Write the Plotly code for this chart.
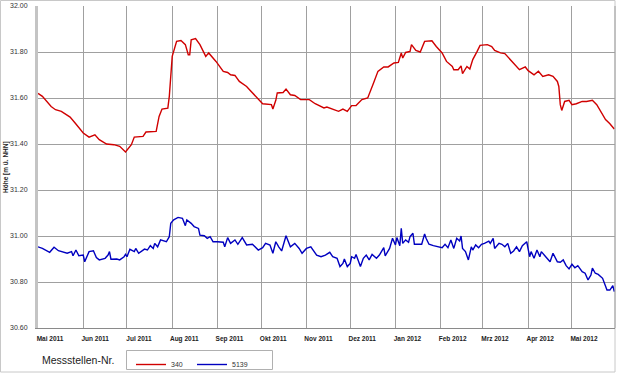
import plotly.graph_objects as go

# ---- data -------------------------------------------------------------
dates_340 = [
    "2011-05-01", "2011-05-04", "2011-05-10", "2011-05-13", "2011-05-17", "2011-05-23", "2011-05-27",
    "2011-06-01", "2011-06-05", "2011-06-09", "2011-06-12", "2011-06-17", "2011-06-22", "2011-06-26",
    "2011-06-30", "2011-07-04", "2011-07-06", "2011-07-12", "2011-07-14", "2011-07-21", "2011-07-23",
    "2011-07-25", "2011-07-29", "2011-07-30", "2011-08-01", "2011-08-04", "2011-08-07", "2011-08-10",
    "2011-08-12", "2011-08-13", "2011-08-14", "2011-08-17", "2011-08-20", "2011-08-24", "2011-08-26",
    "2011-08-31", "2011-09-05", "2011-09-08", "2011-09-10", "2011-09-13", "2011-09-16", "2011-09-21",
    "2011-09-23", "2011-09-28", "2011-10-02", "2011-10-08", "2011-10-09", "2011-10-11", "2011-10-12",
    "2011-10-16", "2011-10-18", "2011-10-21", "2011-10-24", "2011-10-28", "2011-11-03", "2011-11-07",
    "2011-11-13", "2011-11-15", "2011-11-18", "2011-11-23", "2011-11-26", "2011-11-29", "2011-12-02",
    "2011-12-05", "2011-12-09", "2011-12-13", "2011-12-17", "2011-12-20", "2011-12-24", "2011-12-27",
    "2011-12-31", "2012-01-03", "2012-01-05", "2012-01-06", "2012-01-08", "2012-01-11", "2012-01-12",
    "2012-01-15", "2012-01-18", "2012-01-21", "2012-01-26", "2012-01-29", "2012-02-02", "2012-02-05",
    "2012-02-09", "2012-02-10", "2012-02-13", "2012-02-15", "2012-02-16", "2012-02-19", "2012-02-21",
    "2012-02-23", "2012-02-26", "2012-02-28", "2012-03-04", "2012-03-07", "2012-03-09", "2012-03-13",
    "2012-03-16", "2012-03-20", "2012-03-23", "2012-03-26", "2012-03-30", "2012-04-01", "2012-04-05",
    "2012-04-08", "2012-04-11", "2012-04-15", "2012-04-18", "2012-04-21", "2012-04-22", "2012-04-23",
    "2012-04-24", "2012-04-26", "2012-04-29", "2012-05-01", "2012-05-04", "2012-05-08", "2012-05-11",
    "2012-05-15", "2012-05-18", "2012-05-20", "2012-05-24", "2012-05-27", "2012-05-30",
]
values_340 = [
    31.620, 31.607, 31.563, 31.549, 31.542, 31.517, 31.487,
    31.448, 31.430, 31.440, 31.419, 31.400, 31.397, 31.390,
    31.365, 31.397, 31.430, 31.433, 31.452, 31.455, 31.520,
    31.552, 31.556, 31.607, 31.781, 31.846, 31.850, 31.832,
    31.788, 31.788, 31.853, 31.858, 31.832, 31.781, 31.796,
    31.759, 31.716, 31.711, 31.701, 31.698, 31.672, 31.650,
    31.636, 31.600, 31.575, 31.571, 31.552, 31.590, 31.622,
    31.624, 31.639, 31.614, 31.611, 31.593, 31.593, 31.575,
    31.557, 31.561, 31.553, 31.542, 31.552, 31.542, 31.567,
    31.567, 31.593, 31.600, 31.665, 31.716, 31.735, 31.735,
    31.752, 31.755, 31.796, 31.774, 31.798, 31.803, 31.832,
    31.807, 31.800, 31.846, 31.849, 31.824, 31.796, 31.759,
    31.737, 31.723, 31.723, 31.740, 31.706, 31.737, 31.726,
    31.767, 31.803, 31.829, 31.832, 31.824, 31.807, 31.796,
    31.793, 31.763, 31.745, 31.723, 31.735, 31.719, 31.701,
    31.716, 31.694, 31.701, 31.694, 31.672, 31.650, 31.571,
    31.546, 31.585, 31.590, 31.571, 31.575, 31.585, 31.585,
    31.590, 31.571, 31.549, 31.506, 31.488, 31.465,
]

dates_5139 = [
    "2011-05-01", "2011-05-04", "2011-05-09", "2011-05-12", "2011-05-15", "2011-05-18", "2011-05-21",
    "2011-05-24", "2011-05-25", "2011-05-27", "2011-05-29", "2011-06-01", "2011-06-02", "2011-06-05",
    "2011-06-08", "2011-06-10", "2011-06-12", "2011-06-16", "2011-06-18", "2011-06-19", "2011-06-20",
    "2011-06-24", "2011-06-26", "2011-06-29", "2011-06-30", "2011-07-01", "2011-07-03", "2011-07-06",
    "2011-07-07", "2011-07-09", "2011-07-13", "2011-07-15", "2011-07-17", "2011-07-19", "2011-07-20",
    "2011-07-22", "2011-07-24", "2011-07-28", "2011-07-30", "2011-07-31", "2011-08-02", "2011-08-05",
    "2011-08-08", "2011-08-10", "2011-08-11", "2011-08-14", "2011-08-16", "2011-08-19", "2011-08-20",
    "2011-08-23", "2011-08-25", "2011-08-27", "2011-08-29", "2011-09-01", "2011-09-05", "2011-09-06",
    "2011-09-08", "2011-09-10", "2011-09-13", "2011-09-15", "2011-09-18", "2011-09-21", "2011-09-25",
    "2011-09-29", "2011-10-02", "2011-10-04", "2011-10-07", "2011-10-09", "2011-10-11", "2011-10-13",
    "2011-10-15", "2011-10-18", "2011-10-21", "2011-10-24", "2011-10-27", "2011-10-29", "2011-11-01",
    "2011-11-04", "2011-11-08", "2011-11-11", "2011-11-14", "2011-11-17", "2011-11-19", "2011-11-22",
    "2011-11-24", "2011-11-26", "2011-11-27", "2011-11-29", "2011-12-01", "2011-12-02", "2011-12-04",
    "2011-12-05", "2011-12-08", "2011-12-10", "2011-12-12", "2011-12-14", "2011-12-16", "2011-12-19",
    "2011-12-21", "2011-12-24", "2011-12-25", "2011-12-28", "2011-12-30", "2012-01-01", "2012-01-02",
    "2012-01-04", "2012-01-05", "2012-01-06", "2012-01-08", "2012-01-10", "2012-01-11", "2012-01-13",
    "2012-01-14", "2012-01-19", "2012-01-21", "2012-01-22", "2012-01-24", "2012-01-27", "2012-01-30",
    "2012-02-02", "2012-02-04", "2012-02-06", "2012-02-08", "2012-02-10", "2012-02-12", "2012-02-14",
    "2012-02-15", "2012-02-16", "2012-02-18", "2012-02-20", "2012-02-22", "2012-02-23", "2012-02-25",
    "2012-02-27", "2012-02-29", "2012-03-02", "2012-03-05", "2012-03-06", "2012-03-08", "2012-03-09",
    "2012-03-12", "2012-03-14", "2012-03-16", "2012-03-18", "2012-03-20", "2012-03-22", "2012-03-24",
    "2012-03-26", "2012-03-28", "2012-03-30", "2012-03-31", "2012-04-02", "2012-04-03", "2012-04-05",
    "2012-04-07", "2012-04-09", "2012-04-10", "2012-04-13", "2012-04-16", "2012-04-18", "2012-04-21",
    "2012-04-23", "2012-04-25", "2012-04-27", "2012-04-29", "2012-05-01", "2012-05-03", "2012-05-05",
    "2012-05-08", "2012-05-10", "2012-05-12", "2012-05-14", "2012-05-15", "2012-05-17", "2012-05-19",
    "2012-05-22", "2012-05-25", "2012-05-27", "2012-05-29", "2012-05-30",
]
values_5139 = [
    30.953, 30.946, 30.929, 30.951, 30.936, 30.932, 30.925,
    30.932, 30.914, 30.939, 30.914, 30.917, 30.888, 30.932,
    30.936, 30.906, 30.896, 30.903, 30.917, 30.932, 30.899,
    30.900, 30.896, 30.910, 30.920, 30.910, 30.942, 30.932,
    30.946, 30.925, 30.943, 30.939, 30.958, 30.946, 30.968,
    30.953, 30.983, 30.975, 30.997, 31.055, 31.070, 31.081,
    31.077, 31.045, 31.070, 31.055, 31.041, 31.033, 31.004,
    31.001, 30.990, 30.997, 30.975, 30.975, 30.973, 30.953,
    30.993, 30.968, 30.983, 30.964, 30.993, 30.961, 30.964,
    30.939, 30.949, 30.968, 30.961, 30.925, 30.975, 30.953,
    30.935, 31.001, 30.953, 30.968, 30.946, 30.925, 30.946,
    30.953, 30.917, 30.910, 30.917, 30.929, 30.910, 30.903,
    30.867, 30.881, 30.900, 30.867, 30.881, 30.910, 30.903,
    30.920, 30.867, 30.903, 30.917, 30.896, 30.920, 30.903,
    30.917, 30.949, 30.914, 30.946, 30.990, 30.961, 30.993,
    30.958, 31.033, 30.968, 30.983, 30.973, 30.997, 31.012,
    30.964, 30.964, 31.009, 30.990, 30.964, 30.958, 30.953,
    30.949, 30.964, 30.949, 30.983, 30.946, 30.990, 30.978,
    31.000, 30.946, 30.932, 30.896, 30.953, 30.939, 30.961,
    30.949, 30.964, 30.968, 30.978, 30.968, 30.990, 30.946,
    30.968, 30.964, 30.953, 30.968, 30.925, 30.935, 30.953,
    30.932, 30.958, 30.968, 30.975, 30.910, 30.932, 30.903,
    30.939, 30.910, 30.932, 30.910, 30.888, 30.925, 30.888,
    30.886, 30.896, 30.871, 30.857, 30.877, 30.862, 30.871,
    30.845, 30.838, 30.809, 30.830, 30.860, 30.838, 30.833,
    30.816, 30.765, 30.765, 30.784, 30.758,
]

month_ticks = [
    "2011-05-01", "2011-06-01", "2011-07-01", "2011-08-01", "2011-09-01", "2011-10-01", "2011-11-01",
    "2011-12-01", "2012-01-01", "2012-02-01", "2012-03-01", "2012-04-01", "2012-05-01",
]
month_labels = [
    "Mai 2011", "Jun 2011", "Jul 2011", "Aug 2011", "Sep 2011", "Okt 2011", "Nov 2011",
    "Dez 2011", "Jan 2012", "Feb 2012", "Mrz 2012", "Apr 2012", "Mai 2012",
]
y_ticks = [30.6, 30.8, 31.0, 31.2, 31.4, 31.6, 31.8, 32.0]

series_names = ["340", "5139"]
series_colors = ["#d00000", "#0000c0"]

# ---- figure -----------------------------------------------------------
FONT = "Liberation Sans, Arial, sans-serif"
W, H = 620, 374
L, R, T, B = 38, 5, 6, 46
pw, ph = W - L - R, H - T - B

fig = go.Figure()
for name, xs, ys, col in zip(series_names, [dates_340, dates_5139], [values_340, values_5139], series_colors):
    fig.add_trace(go.Scatter(x=xs, y=ys, mode="lines", name=name,
                             line=dict(color=col, width=1.4)))

def px_x(p):
    return (p - L) / pw

def px_y(p):
    return (H - B - p) / ph

fig.update_layout(
    width=W, height=H,
    margin=dict(l=L, r=R, t=T, b=B, pad=0, autoexpand=False),
    paper_bgcolor="white", plot_bgcolor="white",
    font=dict(family=FONT, size=8, color="#222"),
    showlegend=True,
    legend=dict(orientation="h", x=px_x(131), y=px_y(350), xanchor="left", yanchor="top",
                borderwidth=0, bgcolor="rgba(0,0,0,0)", entrywidth=16,
                font=dict(family=FONT, size=7, color="#333"), itemwidth=30),
    xaxis=dict(range=["2011-05-01", "2012-05-30 12:00"], tickmode="array",
               tickvals=month_ticks, ticktext=month_labels,
               showgrid=True, gridcolor="#a0a0a0", gridwidth=1,
               showline=True, linecolor="#8a8a8a", linewidth=1, mirror=False,
               ticks="", ticklabelshift=12, ticklabelstandoff=4,
               tickfont=dict(family=FONT, size=6.5, color="#222", weight="bold"),
               zeroline=False),
    yaxis=dict(range=[30.6, 32.0], tickmode="array", tickvals=y_ticks, tickformat=".2f",
               showgrid=True, gridcolor="#a0a0a0", gridwidth=1,
               showline=True, linecolor="#c4c4c4", linewidth=3,
               ticks="", ticklabelstandoff=6,
               tickfont=dict(family=FONT, size=7, color="#333"),
               zeroline=False),
)

# outer frame
fig.add_shape(type="rect", xref="paper", yref="paper",
              x0=px_x(0.5), x1=px_x(615), y0=px_y(372), y1=px_y(0.5),
              line=dict(color="#c8c8c8", width=1), fillcolor="rgba(0,0,0,0)", layer="below")
# right edge of plot
fig.add_shape(type="line", xref="paper", yref="paper",
              x0=1, x1=1, y0=0, y1=1, line=dict(color="#a0a0a0", width=1))
# legend box
fig.add_shape(type="rect", xref="paper", yref="paper",
              x0=px_x(126.5), x1=px_x(272.5), y0=px_y(369.5), y1=px_y(350.5),
              line=dict(color="#b0b0b0", width=1), fillcolor="rgba(0,0,0,0)")

# axis title
fig.add_annotation(text="<b>Höhe [m ü. NHN]</b>", xref="paper", yref="paper",
                   x=px_x(6), y=0.5, textangle=-90, showarrow=False,
                   xanchor="center", yanchor="middle",
                   font=dict(family=FONT, size=6.5, color="#222"))
# legend caption
fig.add_annotation(text="Messstellen-Nr.", xref="paper", yref="paper",
                   x=px_x(40), y=px_y(360), showarrow=False,
                   xanchor="left", yanchor="middle",
                   font=dict(family=FONT, size=10.5, color="#222"))

fig.write_html("out.html")
